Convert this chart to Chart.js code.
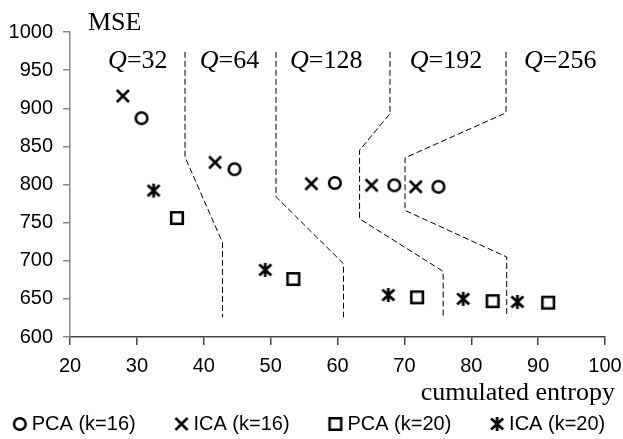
<!DOCTYPE html>
<html><head><meta charset="utf-8">
<script src="https://cdn.jsdelivr.net/npm/chart.js@4/dist/chart.umd.min.js"></script>
<style>html,body{margin:0;padding:0;background:#fff;overflow:hidden}</style>
</head><body>
<canvas id="c" width="623" height="439"></canvas>
<script>
// ---- data ----
const pcaK16X = [30.7, 44.6, 59.6, 68.5, 75.1];
const pcaK16Y = [887, 820, 802, 799, 797];
const icaK16X = [27.9, 41.7, 56.1, 65.1, 71.7];
const icaK16Y = [916, 829, 801, 799, 797];
const pcaK20X = [36.0, 53.4, 71.9, 83.2, 91.5];
const pcaK20Y = [756, 676, 652, 647, 645];
const icaK20X = [32.5, 49.2, 67.6, 78.8, 86.9];
const icaK20Y = [792, 688, 655, 650, 646];
const seriesLabels = ['PCA (k=16)', 'ICA (k=16)', 'PCA (k=20)', 'ICA (k=20)'];

// Q-region boundaries
const bound1X = [37.2, 37.2, 42.8, 42.8];
const bound1Y = [974, 836, 724, 626];
const bound2X = [50.8, 50.8, 60.9, 60.9];
const bound2Y = [974, 784, 696, 626];
const bound3X = [67.85, 67.85, 63.3, 63.3, 75.8, 75.8];
const bound3Y = [974, 893, 845, 755, 686, 626];
const bound4X = [85.2, 85.2, 70.1, 70.1, 85.3, 85.3];
const bound4Y = [974, 894, 835, 766, 705, 626];

const qLabels = ['32', '64', '128', '192', '256'];
const qLabelX = [25.7, 39.4, 52.9, 70.8, 87.9];
const qLabelY = 953;

const xTicksMin = 20, xTicksMax = 100, xStep = 10;
const yTicksMin = 600, yTicksMax = 1000, yStep = 50;
const xTitle = 'cumulated entropy';
const yTitle = 'MSE';

// ---- marker images ----
function marker(draw){
  const c = document.createElement('canvas');
  c.width = 18; c.height = 18;
  const g = c.getContext('2d');
  g.strokeStyle = '#000'; g.lineWidth = 2.6; g.lineCap = 'butt';
  g.translate(9, 9);
  draw(g);
  return c;
}
const mCircle = marker(g => { g.beginPath(); g.arc(0, 0, 5.8, 0, Math.PI*2); g.stroke(); });
const mCross = marker(g => { g.beginPath(); g.moveTo(-6,-6); g.lineTo(6,6); g.moveTo(6,-6); g.lineTo(-6,6); g.stroke(); });
const mSquare = marker(g => { g.beginPath(); g.rect(-5.8,-5.8,11.6,11.6); g.stroke(); });
const mStar = marker(g => { g.lineWidth = 2.8; g.beginPath(); g.moveTo(-6,-5.5); g.lineTo(6,5.5); g.moveTo(6,-5.5); g.lineTo(-6,5.5); g.moveTo(0,-7); g.lineTo(0,7); g.stroke(); });

const zip = (xs, ys) => xs.map((v, i) => ({x: v, y: ys[i]}));

function pts(label, xs, ys, img){
  return { label, data: zip(xs, ys), pointStyle: img, pointRadius: 7, showLine: false,
    backgroundColor: '#000', borderColor: '#000' };
}
function bound(xs, ys){
  return { label: '', data: zip(xs, ys), showLine: true, pointRadius: 0, borderColor: '#000',
    borderWidth: 1, borderDash: [6, 3], fill: false, tension: 0 };
}

const textPlugin = {
  id: 'txt',
  afterDraw(chart){
    const {ctx, chartArea, scales} = chart;
    ctx.save();
    ctx.fillStyle = '#000';
    ctx.textBaseline = 'alphabetic';
    ctx.font = '26px "Liberation Serif"';
    ctx.textAlign = 'left';
    ctx.fillText(yTitle, chartArea.left + 18, chartArea.top - 2);
    ctx.textAlign = 'right';
    ctx.fillText(xTitle, chartArea.right + 10, chartArea.bottom + 63);
    ctx.textAlign = 'left';
    for (let i = 0; i < qLabels.length; i++) {
      const px = scales.x.getPixelForValue(qLabelX[i]);
      const py = scales.y.getPixelForValue(qLabelY);
      ctx.font = 'italic 26px "Liberation Serif"';
      ctx.fillText('Q', px, py);
      const w = ctx.measureText('Q').width;
      ctx.font = '26px "Liberation Serif"';
      ctx.fillText('=' + qLabels[i], px + w, py);
    }
    ctx.restore();
  }
};

Chart.defaults.color = '#000';
Chart.defaults.font.family = '"Liberation Sans", Arial, sans-serif';

const tickFont = {family: '"Liberation Sans", Arial, sans-serif', size: 20};
const legendGap = '\u0020\u0020\u0020\u0020\u0020';

new Chart(document.getElementById('c'), {
  type: 'scatter',
  data: { datasets: [
    pts(seriesLabels[0], pcaK16X, pcaK16Y, mCircle),
    pts(seriesLabels[1], icaK16X, icaK16Y, mCross),
    pts(seriesLabels[2], pcaK20X, pcaK20Y, mSquare),
    pts(seriesLabels[3], icaK20X, icaK20Y, mStar),
    bound(bound1X, bound1Y), bound(bound2X, bound2Y), bound(bound3X, bound3Y), bound(bound4X, bound4Y)
  ]},
  options: {
    responsive: false, animation: false,
    layout: { padding: { top: 32, left: 0, right: 0, bottom: -5 } },
    plugins: {
      legend: {
        position: 'bottom',
        labels: { usePointStyle: true, boxWidth: 4, padding: 16, font: tickFont, color: '#000',
          generateLabels(chart){
            const items = Chart.defaults.plugins.legend.labels.generateLabels(chart).filter(it => it.text !== '');
            items.forEach((it, i) => { if (i < items.length - 1) it.text = it.text + legendGap; });
            return items;
          }
        }
      },
      tooltip: { enabled: false }
    },
    scales: {
      x: {
        type: 'linear', min: xTicksMin, max: xTicksMax,
        ticks: { stepSize: xStep, font: tickFont, color: '#000', padding: 9, callback: v => String(v) },
        grid: { drawOnChartArea: false, drawTicks: true, tickLength: 8, color: '#444', lineWidth: 1.5 },
        border: { display: true, color: '#444', width: 1.5 },
        afterFit(s){ s.height = 61; s.paddingRight = 18; }
      },
      y: {
        type: 'linear', min: yTicksMin, max: yTicksMax,
        ticks: { stepSize: yStep, font: tickFont, color: '#000', padding: 10, callback: v => String(v) },
        grid: { drawOnChartArea: false, drawTicks: true, tickLength: 7, color: '#888', lineWidth: 1.5 },
        border: { display: true, color: '#888', width: 1.5 },
        afterFit(s){ s.width = 70; }
      }
    }
  },
  plugins: [textPlugin]
});
</script>
</body></html>
